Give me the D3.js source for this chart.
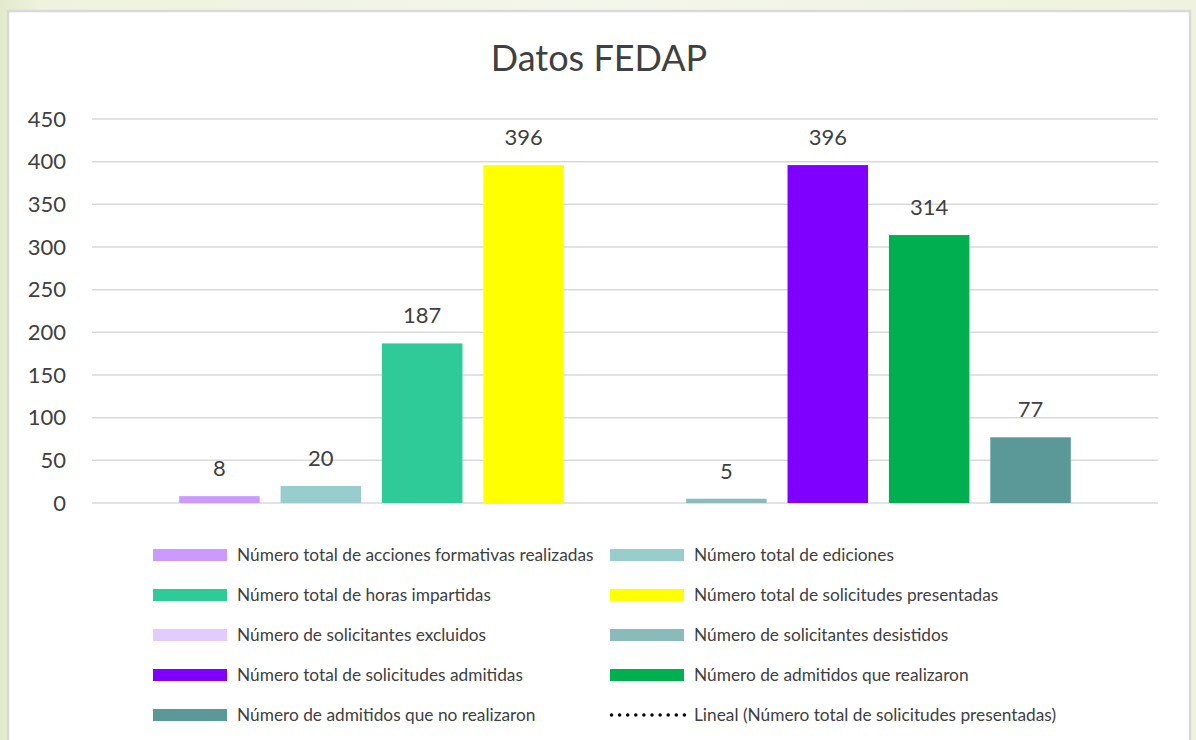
<!DOCTYPE html>
<html>
<head>
<meta charset="utf-8">
<script src="https://cdn.jsdelivr.net/npm/d3@7"></script>
<style>
  html, body { margin: 0; padding: 0; }
  body { width: 1196px; height: 740px; overflow: hidden;
         background: linear-gradient(90deg, #e3eacb 0px, #eef2df 40px, #f3f6ea 600px, #eef2de 1196px); }
  text { font-family: Lato, "Open Sans", sans-serif; fill: #404040; }
</style>
</head>
<body>
<div id="chart"></div>
<script>
// series (one category, one bar per series)
const series = [
  "Número total de acciones formativas realizadas",
  "Número total de ediciones",
  "Número total de horas impartidas",
  "Número total de solicitudes presentadas",
  "Número de solicitantes excluidos",
  "Número de solicitantes desistidos",
  "Número total de solicitudes admitidas",
  "Número de admitidos que realizaron",
  "Número de admitidos que no realizaron"
]
const values = [8, 20, 187, 396, null, 5, 396, 314, 77]
const colors = ["#cc99ff", "#99cccc", "#2ecb98", "#ffff00", "#e2cbff", "#8bbaba", "#7f00ff", "#00af50", "#5b9999"]
const yTicks = [0, 50, 100, 150, 200, 250, 300, 350, 400, 450]
const trendLabel = "Lineal (Número total de solicitudes presentadas)"

const width = 1196
const height = 740
const plot = { left: 92, right: 1158, top: 119, bottom: 503 }

const svg = d3.select("#chart")
  .append("svg")
  .attr("width", width)
  .attr("height", height)

// white chart panel
svg.append("rect")
  .attr("x", 8).attr("y", 11)
  .attr("width", 1182).attr("height", 740)
  .attr("fill", "#fff")
  .attr("stroke", "#d9d9d9")
  .attr("stroke-width", 2.5)

svg.append("text")
  .attr("x", 599).attr("y", 71)
  .attr("text-anchor", "middle")
  .attr("font-size", 36)
  .text("Datos FEDAP")

const x = d3.scaleBand()
  .domain(series)
  .range([plot.left, plot.right])
  .paddingInner(0.206)
  .paddingOuter(0.86)

const y = d3.scaleLinear()
  .domain([0, 450])
  .range([plot.bottom, plot.top])

// gridlines
svg.append("g")
  .selectAll("line")
  .data(yTicks)
  .join("line")
  .attr("x1", plot.left).attr("x2", plot.right)
  .attr("y1", d => y(d)).attr("y2", d => y(d))
  .attr("stroke", "#d9d9d9")
  .attr("stroke-width", 1.5)

// y axis labels
const yAxis = svg.append("g")
  .attr("transform", `translate(${plot.left},0)`)
  .call(d3.axisLeft(y).tickValues(yTicks).tickSize(0).tickPadding(26))
yAxis.select(".domain").remove()
yAxis.selectAll("text")
  .attr("font-size", 22)
  .attr("fill", "#404040")
  .attr("font-family", "Lato, 'Open Sans', sans-serif")

const data = series.map((s, i) => ({ name: s, value: values[i], color: colors[i] }))
const shown = data.filter(d => d.value != null)

svg.append("g")
  .selectAll("rect")
  .data(shown)
  .join("rect")
  .attr("x", d => x(d.name))
  .attr("width", x.bandwidth())
  .attr("y", d => y(d.value))
  .attr("height", d => y(0) - y(d.value))
  .attr("fill", d => d.color)

svg.append("g")
  .selectAll("text")
  .data(shown)
  .join("text")
  .attr("x", d => x(d.name) + x.bandwidth() / 2)
  .attr("y", d => y(d.value) - 20)
  .attr("text-anchor", "middle")
  .attr("font-size", 22)
  .text(d => d.value)

// legend, two columns
const legendItems = data.map(d => ({ name: d.name, color: d.color, dotted: false }))
legendItems.push({ name: trendLabel, color: "#000", dotted: true })

const legend = svg.append("g")
  .selectAll("g")
  .data(legendItems)
  .join("g")
  .attr("transform", (d, i) => `translate(${i % 2 === 0 ? 153 : 610},${555 + Math.floor(i / 2) * 40})`)

legend.filter(d => !d.dotted)
  .append("rect")
  .attr("x", 0).attr("y", -6)
  .attr("width", 74).attr("height", 12)
  .attr("fill", d => d.color)

legend.filter(d => d.dotted)
  .append("line")
  .attr("x1", 1.5).attr("x2", 75)
  .attr("y1", 0).attr("y2", 0)
  .attr("stroke", "#000")
  .attr("stroke-width", 3.5)
  .attr("stroke-linecap", "round")
  .attr("stroke-dasharray", "0 8.1")

legend.append("text")
  .attr("x", 84)
  .attr("y", 6)
  .attr("font-size", 17.3)
  .text(d => d.name)
</script>
</body>
</html>
